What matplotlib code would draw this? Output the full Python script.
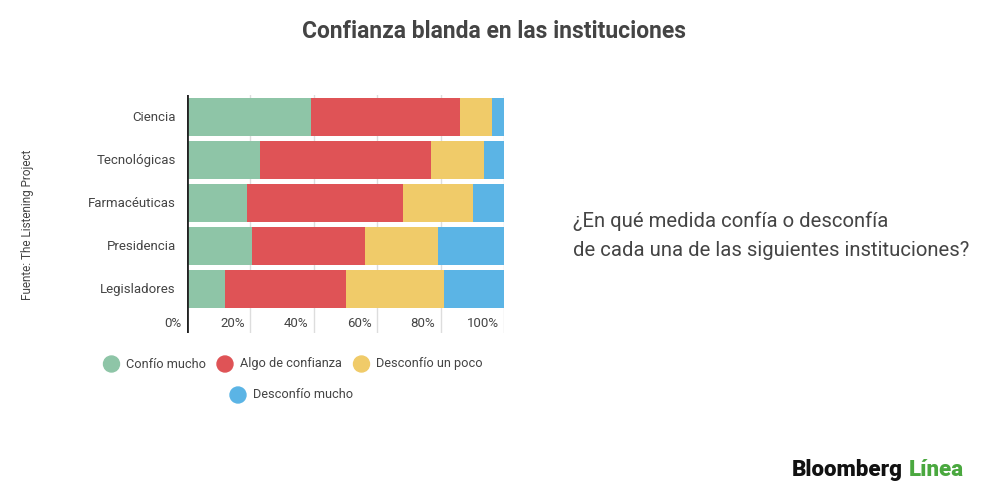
import matplotlib.pyplot as plt
from matplotlib.patches import Circle

# data
institutions = ['Ciencia', 'Tecnológicas', 'Farmacéuticas', 'Presidencia', 'Legisladores']
series_names = ['Confío mucho', 'Algo de confianza', 'Desconfío un poco', 'Desconfío mucho']
confio_mucho = [39, 23, 19, 20.5, 12]
algo_confianza = [47, 54, 49, 35.5, 38]
desconfio_poco = [10, 16.5, 22, 23, 31]
desconfio_mucho = [4, 6.5, 10, 21, 19]
ticks = [0, 20, 40, 60, 80, 100]
tick_labels = ['0%', '20%', '40%', '60%', '80%', '100%']

colors = ['#8ec5a7', '#df5356', '#f0cb69', '#5bb4e5']
text_color = '#444444'

plt.rcParams['font.family'] = ['Roboto', 'DejaVu Sans']

fig = plt.figure(figsize=(10, 5), dpi=100)
fig.patch.set_facecolor('white')

# main bar axes (pixel coords: x 187-504, y 95-333)
ax = fig.add_axes([0.187, 1 - 333 / 500, 0.3173, (333 - 95) / 500])

ypos = list(range(len(institutions)))
series = [confio_mucho, algo_confianza, desconfio_poco, desconfio_mucho]
left = [0] * len(institutions)
for vals, c in zip(series, colors):
    ax.barh(ypos, vals, left=left, height=0.88, color=c, zorder=2)
    left = [l + v for l, v in zip(left, vals)]

ax.set_xlim(0, 100)
ax.set_ylim(5.02, -0.517)
for t in ticks[1:]:
    ax.axvline(t, color='#dddddd', lw=1, zorder=1)
ax.axvline(0, color='#222222', lw=2, zorder=3)

for s in ax.spines.values():
    s.set_visible(False)
ax.set_xticks([])
ax.set_yticks([])

for t, lab in zip(ticks, tick_labels):
    ax.annotate(lab, (t, 4.79), xytext=(-4, 0), textcoords='offset points',
                ha='right', va='center', fontsize=9.5, color=text_color,
                annotation_clip=False)

for y, name in zip(ypos, institutions):
    ax.annotate(name, (0, y), xytext=(-8, 0), textcoords='offset points',
                ha='right', va='center', fontsize=9.5, color=text_color,
                annotation_clip=False)

# overlay axes in pixel coordinates for texts and legend
ov = fig.add_axes([0, 0, 1, 1], zorder=-1)
ov.set_xlim(0, 1000)
ov.set_ylim(500, 0)
ov.axis('off')

ov.text(494, 32, 'Confianza blanda en las instituciones', ha='center', va='center',
        fontsize=16.5, fontweight='bold', color=text_color)

ov.text(27, 225, 'Fuente: The Listening Project', rotation=90, ha='center', va='center',
        fontsize=8.5, color=text_color)

ov.text(573, 221, '¿En qué medida confía o desconfía', ha='left', va='center',
        fontsize=14.6, color=text_color)
ov.text(573, 251, 'de cada una de las siguientes instituciones?', ha='left', va='center',
        fontsize=14.6, color=text_color)

legend_pos = [(111.5, 364), (225, 364), (361.5, 364), (238, 395)]
for (x, y), name, c in zip(legend_pos, series_names, colors):
    ov.add_patch(Circle((x, y), 8, color=c))
    ov.text(x + 15, y, name, ha='left', va='center', fontsize=9.2, color=text_color)

ov.text(792, 470, 'Bloomberg', ha='left', va='center', fontsize=16,
        fontweight='heavy', color='#111111')
ov.text(909, 470, 'Línea', ha='left', va='center', fontsize=16,
        fontweight='heavy', color='#4aa83f')

fig.savefig('out.png', dpi=100)
